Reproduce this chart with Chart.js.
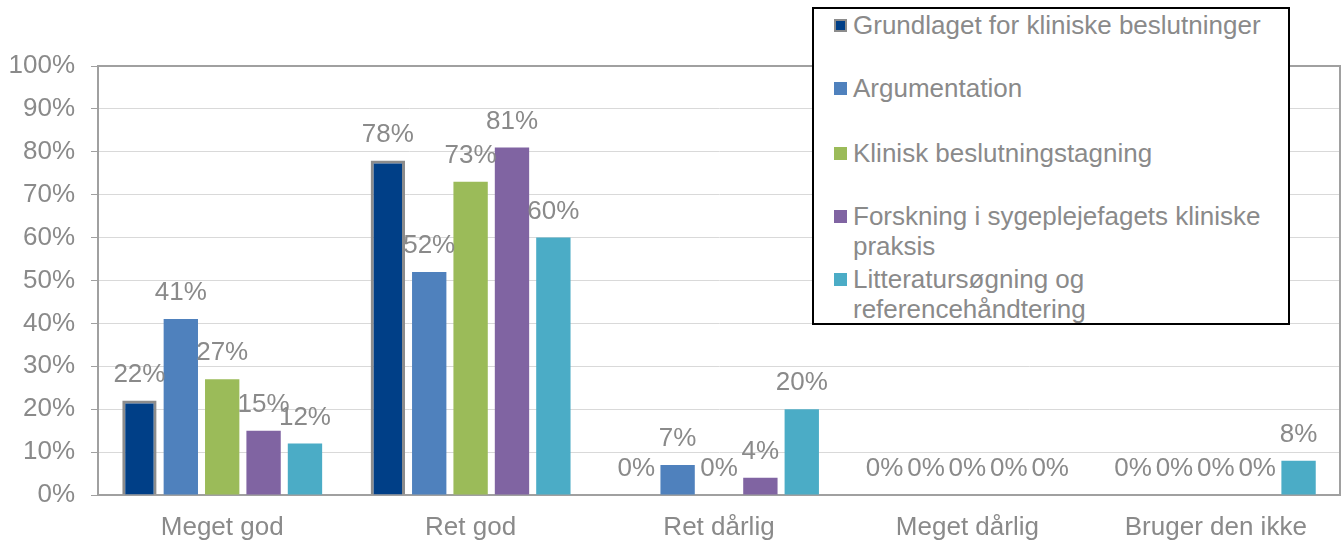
<!DOCTYPE html>
<html>
<head>
<meta charset="utf-8">
<script src="https://cdn.jsdelivr.net/npm/chart.js@4"></script>
<style>
  html, body { margin: 0; padding: 0; background: #fff; }
  #wrap { position: relative; width: 1343px; height: 542px; }
  #legend {
    position: absolute; left: 812px; top: 7px; width: 478px; height: 318px;
    border: 2px solid #000; background: #fff; box-sizing: border-box;
    font-family: 'Liberation Sans', Arial, sans-serif; font-size: 26px; color: #8a8a8a;
  }
  .item { position: absolute; left: 39px; line-height: 30px; }
  .sw { position: absolute; left: -19px; top: 9px; width: 13px; height: 13px; box-sizing: border-box; }
</style>
</head>
<body>
<div id="wrap">
  <canvas id="chart" width="1343" height="542"></canvas>
  <div id="legend"></div>
</div>
<script>
const categories = ['Meget god', 'Ret god', 'Ret dårlig', 'Meget dårlig', 'Bruger den ikke'];
const seriesNames = [
  'Grundlaget for kliniske beslutninger',
  'Argumentation',
  'Klinisk beslutningstagning',
  'Forskning i sygeplejefagets kliniske praksis',
  'Litteratursøgning og referencehåndtering'
];
const grundlaget = [22, 78, 0, 0, 0];
const argumentation = [41, 52, 7, 0, 0];
const klinisk = [27, 73, 0, 0, 0];
const forskning = [15, 81, 4, 0, 0];
const litteratur = [12, 60, 20, 0, 8];
const yTicks = [0, 10, 20, 30, 40, 50, 60, 70, 80, 90, 100];

const colors = ['#003f87', '#4f81bd', '#9bbb59', '#8064a2', '#4bacc6'];
const allData = [grundlaget, argumentation, klinisk, forskning, litteratur];
const textGray = '#8a8a8a';
const font = "'Liberation Sans', Arial, sans-serif";

// Labels above bars, Excel style
const barLabels = {
  id: 'barLabels',
  afterDatasetsDraw(chart) {
    const ctx = chart.ctx;
    ctx.save();
    ctx.font = '26px ' + font;
    ctx.fillStyle = textGray;
    ctx.textAlign = 'center';
    ctx.textBaseline = 'middle';
    chart.data.datasets.forEach((ds, i) => {
      chart.getDatasetMeta(i).data.forEach((bar, j) => {
        ctx.fillText(ds.data[j] + '%', bar.x, bar.y - 26);
      });
    });
    ctx.restore();
  }
};

// Box around plot area (top and right sides)
const frame = {
  id: 'frame',
  beforeDatasetsDraw(chart) {
    const a = chart.chartArea;
    const ctx = chart.ctx;
    ctx.save();
    ctx.strokeStyle = '#a0a0a0';
    ctx.lineWidth = 2;
    ctx.strokeRect(a.left, a.top, a.right - a.left, a.bottom - a.top);
    ctx.restore();
  }
};

new Chart(document.getElementById('chart'), {
  type: 'bar',
  data: {
    labels: categories,
    datasets: allData.map((d, i) => ({
      label: seriesNames[i],
      data: d,
      backgroundColor: colors[i],
      borderColor: i === 0 ? '#8c8c8c' : colors[i],
      borderWidth: i === 0 ? 3 : 0,
      categoryPercentage: 0.833,
      barPercentage: 0.83
    }))
  },
  options: {
    responsive: false,
    animation: false,
    layout: { padding: { top: 66, right: 3, left: 0, bottom: 0 } },
    plugins: { legend: { display: false }, tooltip: { enabled: false } },
    scales: {
      x: {
        grid: { display: false, drawTicks: false },
        border: { color: '#a0a0a0', width: 2 },
        ticks: { color: textGray, font: { family: font, size: 26 }, padding: 17 },
        afterFit(s) { s.height = 47; }
      },
      y: {
        min: 0,
        max: 100,
        afterBuildTicks(s) { s.ticks = yTicks.map(v => ({ value: v })); },
        grid: { color: '#d9d9d9', lineWidth: 1, tickLength: 7, tickColor: '#a0a0a0' },
        border: { color: '#a0a0a0', width: 2 },
        ticks: {
          color: textGray,
          font: { family: font, size: 26 },
          padding: 16,
          callback: v => v + '%'
        },
        afterFit(s) { s.width = 98; }
      }
    }
  },
  plugins: [frame, barLabels]
});

// Legend box overlaying the plot, as in the original
const legendTops = [1, 64, 129, 192, 255];
const legend = document.getElementById('legend');
seriesNames.forEach((name, i) => {
  const item = document.createElement('div');
  item.className = 'item';
  item.style.top = legendTops[i] + 'px';
  item.style.width = '425px';
  const sw = document.createElement('span');
  sw.className = 'sw';
  sw.style.background = colors[i];
  if (i === 0) sw.style.border = '2px solid #8c8c8c';
  item.appendChild(sw);
  item.appendChild(document.createTextNode(name));
  legend.appendChild(item);
});
</script>
</body>
</html>
